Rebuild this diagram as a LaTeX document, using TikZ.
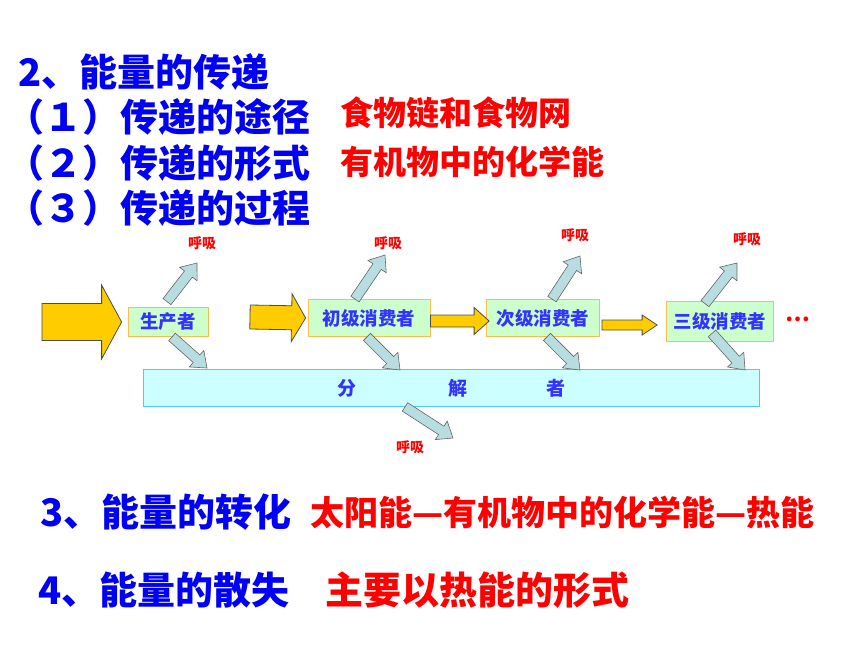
\documentclass[tikz,border=0pt]{standalone}
\usepackage{fontspec}
\setmainfont{Noto Sans CJK SC}
\usetikzlibrary{calc}
\definecolor{titleblue}{RGB}{0,0,245}
\definecolor{labelblue}{RGB}{51,51,255}
\definecolor{answerred}{RGB}{255,0,0}
\definecolor{boxgreen}{RGB}{204,255,204}
\definecolor{boxorange}{RGB}{250,190,80}
\definecolor{decfill}{RGB}{204,255,255}
\definecolor{decline}{RGB}{80,200,255}
\definecolor{sunyellow}{RGB}{255,204,0}
\definecolor{respfill}{RGB}{183,221,224}
% block arrow: style, tail, tip, shaft half width, head half width, head length
\newcommand{\fatarrow}[6]{%
  \coordinate (fh) at ($(#3)!#6!(#2)$);
  \draw[#1] ($(#2)!#4!90:(#3)$) -- ($(fh)!#4!90:(#3)$) -- ($(fh)!#5!90:(#3)$) -- (#3)
    -- ($(fh)!#5!-90:(#3)$) -- ($(fh)!#4!-90:(#3)$) -- ($(#2)!#4!-90:(#3)$) -- cycle;}
\begin{document}
\begin{tikzpicture}
		[x=1pt,y=-1pt,
		title/.style={anchor=west,inner sep=0pt,text=titleblue,font=\bfseries\fontsize{38}{40}\selectfont},
		answer/.style={anchor=west,inner sep=0pt,text=answerred,font=\bfseries\fontsize{33}{36}\selectfont},
		level/.style={draw=boxorange,fill=boxgreen,thick,inner sep=0pt,text=labelblue,font=\bfseries\fontsize{18.5}{20}\selectfont},
		breath/.style={inner sep=0pt,text=answerred,font=\bfseries\fontsize{14}{15}\selectfont},
		flow/.style={draw=black!70,fill=sunyellow,line width=0.8pt},
		resp/.style={draw=black!60,fill=respfill,line width=0.6pt}]
		\useasboundingbox (0,0) rectangle (860,645);

		% the headings
		\node [title] (t1) at (18,72) {2、能量的传递};
		\node [title] (t2) at (6,117) {（１）传递的途径};
		\node [title] (t3) at (6,163) {（２）传递的形式};
		\node [title] (t4) at (6,208) {（３）传递的过程};
		\node [answer] (a1) at (340,113) {食物链和食物网};
		\node [answer] (a2) at (340,162) {有机物中的化学能};

		% the trophic levels and the decomposers
		\node [level,minimum width=80,minimum height=29] (prod) at (168,322) {生产者};
		\node [level,minimum width=122,minimum height=37] (cons1) at (369,318) {初级消费者};
		\node [level,minimum width=113,minimum height=37] (cons2) at (543,318) {次级消费者};
		\node [level,minimum width=107,minimum height=40] (cons3) at (720,321) {三级消费者};
		\node [draw=decline,fill=decfill,thick,minimum width=616,minimum height=37,text=labelblue,font=\bfseries\fontsize{19}{20}\selectfont] (dec) at (451,388) {分\hspace{92pt}解\hspace{79pt}者};
		\node [text=answerred,font=\bfseries\fontsize{22}{24}\selectfont] (more) at (798,319) {…};

		% energy flow along the chain
		\coordinate (sun) at (42,322);
		\coordinate (feed) at (250,317);
		\fatarrow{flow}{sun}{[xshift=-6pt]prod.west}{18.5pt}{37pt}{20pt}
		\fatarrow{flow}{feed}{[xshift=-2pt]cons1.west}{12pt}{24pt}{14pt}
		\fatarrow{flow}{[yshift=-3pt]cons1.east}{[shift={(3pt,-3pt)}]cons2.west}{6pt}{13.5pt}{15pt}
		\fatarrow{flow}{[shift={(2pt,-7pt)}]cons2.east}{[shift={(-9pt,-4pt)}]cons3.west}{5pt}{10pt}{15pt}

		% respiration and dead matter
		\node [breath] (b0) at (202,243) {呼吸};
		\node [breath] (b1) at (388,243) {呼吸};
		\node [breath] (b2) at (575,235) {呼吸};
		\node [breath] (b3) at (747,239) {呼吸};
		\node [breath] (b4) at (410,447) {呼吸};
		\coordinate (up0) at (197,263);
		\coordinate (up1) at (385,255);
		\coordinate (up2) at (580,256);
		\coordinate (up3) at (737,263);
		\coordinate (dn0) at (207,368);
		\coordinate (dn1) at (400,370);
		\coordinate (dn2) at (580,370);
		\coordinate (dn3) at (745,370);
		\coordinate (dn4) at (453,438);
		\fatarrow{resp}{[shift={(-1pt,5.5pt)}]prod.north}{up0}{5pt}{11pt}{14pt}
		\fatarrow{resp}{[xshift=4pt]prod.south}{dn0}{5pt}{11pt}{14pt}
		\fatarrow{resp}{[xshift=-14pt]cons1.north}{up1}{5pt}{11pt}{14pt}
		\fatarrow{resp}{[xshift=-2pt]cons1.south}{dn1}{5pt}{11pt}{14pt}
		\fatarrow{resp}{[xshift=9pt]cons2.north}{up2}{5pt}{11pt}{14pt}
		\fatarrow{resp}{[xshift=4pt]cons2.south}{dn2}{5pt}{11pt}{14pt}
		\fatarrow{resp}{[shift={(-15pt,-3pt)}]cons3.north}{up3}{5pt}{11pt}{14pt}
		\fatarrow{resp}{[shift={(-8pt,8pt)}]cons3.south}{dn3}{5pt}{11pt}{14pt}
		\fatarrow{resp}{[xshift=-46pt]dec.south}{dn4}{5pt}{11pt}{14pt}

		% conversion and loss
		\node [title] (t5) at (40,512) {3、能量的转化};
		\node [answer,font=\bfseries\fontsize{34}{36}\selectfont] (a3) at (310,512) {太阳能—有机物中的化学能—热能};
		\node [title] (t6) at (38,590) {4、能量的散失};
		\node [answer,font=\bfseries\fontsize{38}{40}\selectfont] (a4) at (325,590) {主要以热能的形式};
	\end{tikzpicture}
\end{document}
